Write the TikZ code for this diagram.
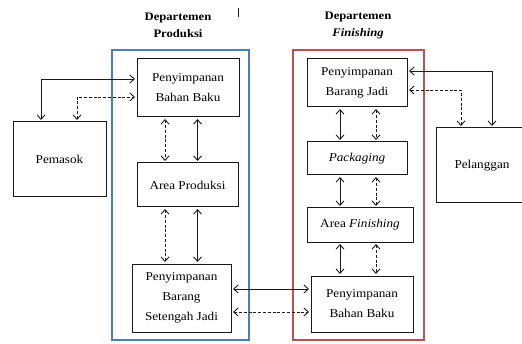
\documentclass[tikz,border=0pt]{standalone}
\usepackage{fontspec}
\setmainfont{Liberation Serif}[FakeStretch=1.1]
\usetikzlibrary{arrows.meta}
\definecolor{dblue}{HTML}{4A7EBB}
\definecolor{dred}{HTML}{C0504D}
\definecolor{dline}{HTML}{1A1A1A}
\newcommand{\dfont}{\fontsize{12}{20}\selectfont}
\newcommand{\dhead}{\fontsize{11.5}{17}\selectfont\bfseries}

\begin{document}
\begin{tikzpicture}[x=1pt,y=1pt,font=\dfont,
  box/.style={draw=dline,line width=1pt,align=center,inner sep=0pt},
  link/.style={dline,line width=0.9pt,{Straight Barb[length=4.5pt,width=8pt]}-{Straight Barb[length=4.5pt,width=8pt]},shorten <=1.5pt,shorten >=1.5pt},
  dlink/.style={link,dash pattern=on 3pt off 1.8pt}]
\useasboundingbox (0,0) rectangle (522,343);
% department frames
\draw[dblue,line width=2pt] (112,3) rectangle (249,293);
\draw[dred,line width=2pt] (293,3) rectangle (424,293);
\node[font=\dhead,align=center] (tprod) at (178,318) {Departemen\\Produksi};
\node[font=\dhead,align=center] (tfin) at (358,318) {Departemen\\\itshape Finishing};
\draw[dline,line width=0.8pt] (238,335) -- (238,326);
% Produksi
\node[box,minimum width=102,minimum height=58] (bbp) at (188,255) {Penyimpanan\\Bahan Baku};
\node[box,minimum width=101,minimum height=44] (ap) at (187.5,158) {Area Produksi};
\node[box,minimum width=99,minimum height=68] (sj) at (181.5,45) {Penyimpanan\\Barang\\Setengah Jadi};
\node[box,minimum width=93,minimum height=75] (pem) at (59.5,183.5) {Pemasok};
% Finishing
\node[box,minimum width=100,minimum height=48] (bj) at (357,260) {Penyimpanan\\Barang Jadi};
\node[box,minimum width=100,minimum height=33] (pk) at (357,184.5) {\itshape Packaging};
\node[box,minimum width=106,minimum height=34] (af) at (360,118) {Area \textit{Finishing}};
\node[box,minimum width=102,minimum height=56] (bbf) at (362,39) {Penyimpanan\\Bahan Baku};
\node[box,minimum width=92,minimum height=75] (pel) at (482,177.5) {Pelanggan};
% helper coordinates
\coordinate (xa) at (165,0);
\coordinate (xb) at (197.5,0);
\coordinate (xc) at (340,0);
\coordinate (xd) at (376,0);
\coordinate (xe) at (41,0);
\coordinate (xf) at (77,0);
\coordinate (xg) at (461,0);
\coordinate (xh) at (492,0);
\coordinate (ya) at (0,54);
\coordinate (yb) at (0,31);
% links
\draw[link] (pem.north -| xe) |- ([yshift=9pt]bbp.west);
\draw[dlink] (pem.north -| xf) |- ([yshift=-9pt]bbp.west);
\draw[dlink] (bbp.south -| xa) -- (ap.north -| xa);
\draw[link] (bbp.south -| xb) -- (ap.north -| xb);
\draw[dlink] (ap.south -| xa) -- (sj.north -| xa);
\draw[link] (ap.south -| xb) -- (sj.north -| xb);
\draw[link] (pel.north -| xh) |- ([yshift=12pt]bj.east);
\draw[dlink] (pel.north -| xg) |- ([yshift=-7pt]bj.east);
\draw[link] (bj.south -| xc) -- (pk.north -| xc);
\draw[dlink] (bj.south -| xd) -- (pk.north -| xd);
\draw[link] (pk.south -| xc) -- (af.north -| xc);
\draw[dlink] (pk.south -| xd) -- (af.north -| xd);
\draw[link] (af.south -| xc) -- (bbf.north -| xc);
\draw[dlink] (af.south -| xd) -- (bbf.north -| xd);
\draw[link] (sj.east |- ya) -- (bbf.west |- ya);
\draw[dlink] (sj.east |- yb) -- (bbf.west |- yb);
\end{tikzpicture}
\end{document}
